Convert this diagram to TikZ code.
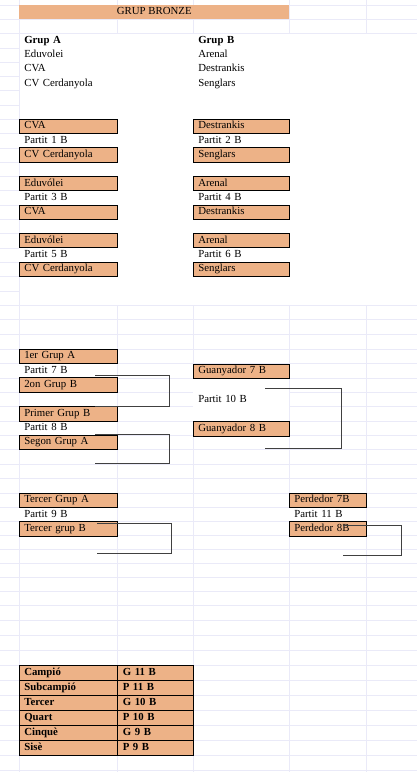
\documentclass[tikz,border=0pt]{standalone}
\usepackage{fontspec}
\setmainfont{Liberation Serif}
\usetikzlibrary{positioning}
\definecolor{peach}{RGB}{237,178,135}
\definecolor{gridc}{RGB}{234,234,248}
\definecolor{penc}{RGB}{64,64,64}

\begin{document}
\begin{tikzpicture}[
    x=1pt, y=-1pt,
    node distance=0pt,
    every node/.style={font=\fontsize{10.8}{12}\selectfont, inner ysep=0pt, outer sep=0pt,
                text height=7.4pt, text depth=2.4pt},
    cell/.style={minimum height=14.3pt, inner xsep=5pt, align=left},
    colB/.style={text width=88pt},
    colC/.style={text width=65pt, inner xsep=5.5pt},
    colD/.style={text width=86pt},
    colE/.style={text width=66.7pt},
    entry/.style={cell},
    head/.style={cell, font=\fontsize{10.8}{12}\selectfont\bfseries},
    team/.style={cell, draw=black, line width=1pt, fill=peach},
    match/.style={cell, fill=white},
    rank/.style={team, minimum height=15pt, font=\fontsize{10.8}{12}\selectfont\bfseries},
    gridline/.style={draw=gridc, line width=0.8pt},
    bracket/.style={draw=penc, line width=0.9pt},
  ]
  \useasboundingbox (0,0) rectangle (417,772);

  % spreadsheet grid
  \def\toprows{5,19.3,33.6}
  \def\midrows{47.9,62.2,76.4,90.7,105,119.3,133.6,147.9,162.2,176.4,190.7,205,219.3,233.6,247.9,262.2,276.5,291}
  \def\lowrows{305,319.5,334,349.3,363.6,378,392.4,406.7,421,435.3,449.5,464,478.6,493.3,507.5,521.7,535.7,549.5,563.5,577.5,591.7,605.8,620.5,635.5,650.5,665,680,695,710,725,740,755,770}
  \foreach \y in \toprows {\draw[gridline] (0,\y) -- (417,\y);}
  \foreach \y in \midrows {\draw[gridline] (0,\y) -- (19.3,\y);}
  \foreach \y in \lowrows {\draw[gridline] (0,\y) -- (417,\y);}
  \draw[gridline] (19.3,0) -- (19.3,772);
  \foreach \x in {117.3,193.3,289.3,366} {
    \draw[gridline] (\x,0) -- (\x,33.6);
    \draw[gridline] (\x,305) -- (\x,772);
  }

  \node[cell, fill=peach, minimum width=270pt, anchor=north west] (title) at (19.3,5) {GRUP BRONZE};

  \node[head, colB, anchor=north west] (grpa) at (19.3,33.6) {Grup A};
  \node[entry, colB, below=of grpa] (grpa1) {Eduvolei};
  \node[entry, colB, below=of grpa1] (grpa2) {CVA};
  \node[entry, colB, below=of grpa2] (grpa3) {CV Cerdanyola};
  \node[head, colD, anchor=north west] (grpb) at (193.3,33.6) {Grup B};
  \node[entry, colD, below=of grpb] (grpb1) {Arenal};
  \node[entry, colD, below=of grpb1] (grpb2) {Destrankis};
  \node[entry, colD, below=of grpb2] (grpb3) {Senglars};

  % group matches
  \node[match, colB, anchor=north west] (p1) at (19.3,133.6) {Partit 1 B};
  \node[team, colB, above=of p1] (p1a) {CVA};
  \node[team, colB, below=of p1] (p1b) {CV Cerdanyola};
  \node[match, colB, anchor=north west] (p3) at (19.3,190.7) {Partit 3 B};
  \node[team, colB, above=of p3] (p3a) {Eduvólei};
  \node[team, colB, below=of p3] (p3b) {CVA};
  \node[match, colB, anchor=north west] (p5) at (19.3,247.9) {Partit 5 B};
  \node[team, colB, above=of p5] (p5a) {Eduvólei};
  \node[team, colB, below=of p5] (p5b) {CV Cerdanyola};

  \node[match, colD, anchor=north west] (p2) at (193.3,133.6) {Partit 2 B};
  \node[team, colD, above=of p2] (p2a) {Destrankis};
  \node[team, colD, below=of p2] (p2b) {Senglars};
  \node[match, colD, anchor=north west] (p4) at (193.3,190.7) {Partit 4 B};
  \node[team, colD, above=of p4] (p4a) {Arenal};
  \node[team, colD, below=of p4] (p4b) {Destrankis};
  \node[match, colD, anchor=north west] (p6) at (193.3,247.9) {Partit 6 B};
  \node[team, colD, above=of p6] (p6a) {Arenal};
  \node[team, colD, below=of p6] (p6b) {Senglars};

  % knockout
  \node[match, colB, anchor=north west] (p7) at (19.3,363.6) {Partit 7 B};
  \node[team, colB, above=of p7] (p7a) {1er Grup A};
  \node[team, colB, below=of p7] (p7b) {2on Grup B};
  \node[match, colB, anchor=north west] (p8) at (19.3,421) {Partit 8 B};
  \node[team, colB, above=of p8] (p8a) {Primer Grup B};
  \node[team, colB, below=of p8] (p8b) {Segon Grup A};
  \node[match, colD, minimum height=43.4pt, anchor=north west] (p10) at (193.3,378.3) {Partit 10 B};
  \node[team, colD, above=of p10] (p10a) {Guanyador 7 B};
  \node[team, colD, below=of p10] (p10b) {Guanyador 8 B};
  \node[match, colB, anchor=north west] (p9) at (19.3,507.4) {Partit 9 B};
  \node[team, colB, above=of p9] (p9a) {Tercer Grup A};
  \node[team, colB, below=of p9] (p9b) {Tercer grup B};
  \node[match, colE, anchor=north west] (p11) at (289.3,507.4) {Partit 11 B};
  \node[team, colE, above=of p11] (p11a) {Perdedor 7B};
  \node[team, colE, below=of p11] (p11b) {Perdedor 8B};

  \coordinate (k7top) at (95,375.5);
  \coordinate (k7bot) at (95,406.7);
  \coordinate (k8top) at (95,434.3);
  \coordinate (k8bot) at (95,463.7);
  \coordinate (k10top) at (265,388.3);
  \coordinate (k10bot) at (265,448.8);
  \coordinate (k9top) at (97.3,523.5);
  \coordinate (k9bot) at (97.3,553);
  \coordinate (k11top) at (342.5,525);
  \coordinate (k11bot) at (342.5,555);
  \draw[bracket] (k7top) -- ++(74.5,0) |- (k7bot);
  \draw[bracket] (k8top) -- ++(74.5,0) |- (k8bot);
  \draw[bracket] (k10top) -- ++(76,0) |- (k10bot);
  \draw[bracket] (k9top) -- ++(74,0) |- (k9bot);
  \draw[bracket] (k11top) -- ++(59.2,0) |- (k11bot);

  % final ranking
  \node[rank, colB, anchor=north west] (rk1) at (19.3,665) {Campió};
  \node[rank, colC, right=of rk1] (rs1) {G 11 B};
  \node[rank, colB, below=of rk1] (rk2) {Subcampió};
  \node[rank, colC, right=of rk2] (rs2) {P 11 B};
  \node[rank, colB, below=of rk2] (rk3) {Tercer};
  \node[rank, colC, right=of rk3] (rs3) {G 10 B};
  \node[rank, colB, below=of rk3] (rk4) {Quart};
  \node[rank, colC, right=of rk4] (rs4) {P 10 B};
  \node[rank, colB, below=of rk4] (rk5) {Cinquè};
  \node[rank, colC, right=of rk5] (rs5) {G 9 B};
  \node[rank, colB, below=of rk5] (rk6) {Sisè};
  \node[rank, colC, right=of rk6] (rs6) {P 9 B};
\end{tikzpicture}
\end{document}
